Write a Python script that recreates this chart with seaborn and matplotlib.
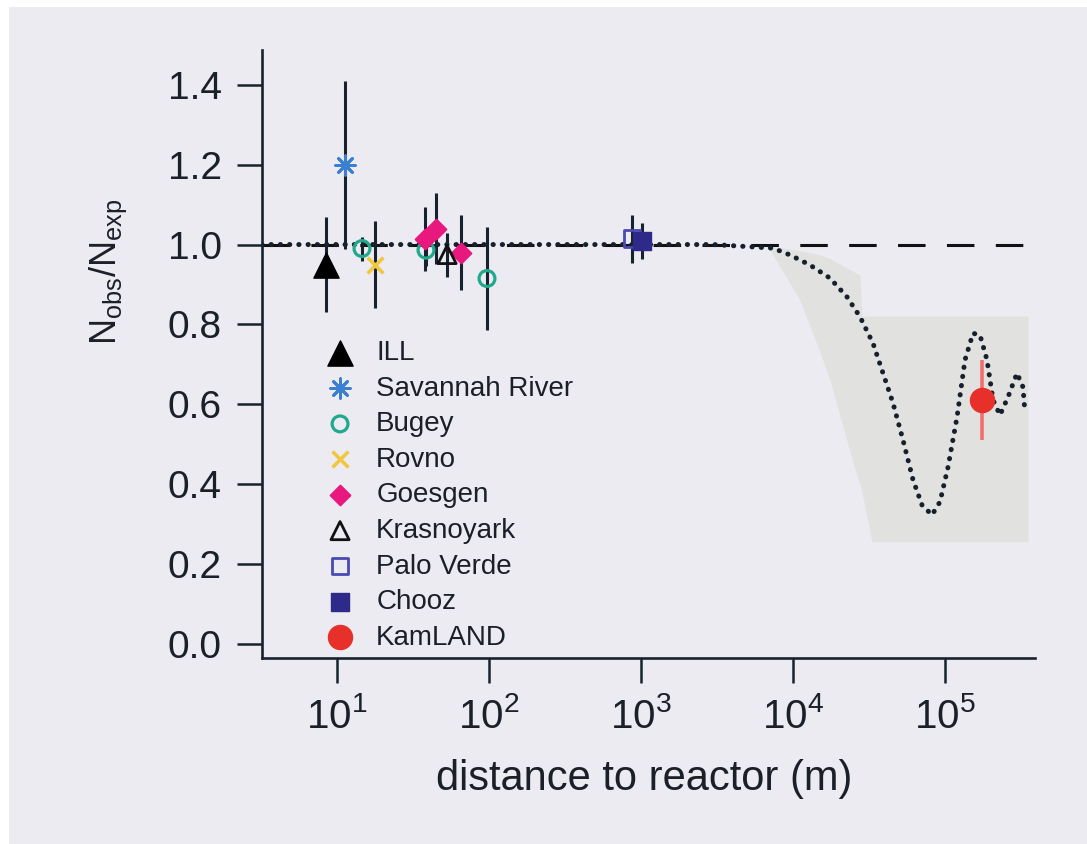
import numpy as np
import pandas as pd
import matplotlib
matplotlib.use("Agg")
import matplotlib.pyplot as plt
import seaborn as sns
from matplotlib.patches import Rectangle
from matplotlib.ticker import FixedLocator, FuncFormatter, NullLocator

# ---------------- data ----------------
experiments = ["ILL", "Savannah River", "Bugey", "Rovno", "Goesgen",
               "Krasnoyark", "Palo Verde", "Chooz", "KamLAND"]

ill_L, ill_R, ill_E = [8.5], [0.95], [0.12]
sav_L, sav_R, sav_E = [11.3], [1.20], [0.21]
bug_L, bug_R, bug_E = [14.6, 38.5, 97.0], [0.99, 0.986, 0.915], [0.03, 0.04, 0.13]
rov_L, rov_R, rov_E = [17.8], [0.95], [0.11]
goe_L, goe_R, goe_E = [38.0, 45.0, 65.0], [1.015, 1.04, 0.98], [0.08, 0.088, 0.095]
kra_L, kra_R, kra_E = [53.0], [0.975], [0.055]
pal_L, pal_R, pal_E = [870.0], [1.015], [0.06]
cho_L, cho_R, cho_E = [1020.0], [1.01], [0.045]
kam_L, kam_R, kam_E = [175000.0], [0.61], [0.10]

# oscillation prediction (dotted curve)
curve_L = [3.2, 1000, 3000, 4477, 7380, 9550, 12900, 17500, 22650, 27600,
           33600, 39100, 45500, 52900, 61600, 70600, 82100, 92700, 104700,
           120000, 135400, 152900, 170000, 189000, 207000, 230000, 259600,
           297700, 326000, 336000]
curve_R = [1.0, 1.0, 1.0, 0.996, 0.991, 0.974, 0.949, 0.916, 0.869, 0.819,
           0.753, 0.678, 0.603, 0.511, 0.411, 0.348, 0.323, 0.356, 0.443,
           0.568, 0.711, 0.778, 0.773, 0.711, 0.611, 0.573, 0.618,
           0.678, 0.643, 0.578]

# grey allowed band
band_L = [7060, 11100, 15060, 17500, 25600, 27600, 28400, 33100, 351500]
band_hi = [0.996, 0.985, 0.974, 0.965, 0.930, 0.924, 0.821, 0.821, 0.821]
band_lo = [0.986, 0.861, 0.730, 0.661, 0.436, 0.400, 0.380, 0.256, 0.256]

y_ticks = [0.0, 0.2, 0.4, 0.6, 0.8, 1.0, 1.2, 1.4]
x_ticks = [10, 100, 1000, 10000, 100000]

# ---------------- style ----------------
sns.set_theme(style="ticks")
plt.rcParams["font.family"] = ["Liberation Sans", "DejaVu Sans"]
INK = "#18222f"
BG = "#ECEBF1"

fig = plt.figure(figsize=(10.87, 8.44), dpi=100)
fig.patch.set_facecolor("white")
fig.patches.append(Rectangle((9 / 1087, 0), 1 - 9 / 1087, 1 - 7 / 844,
                             transform=fig.transFigure, facecolor=BG,
                             edgecolor="none", zorder=-10))

W, H = 1087, 844
ax = fig.add_axes([262 / W, 1 - 658 / H, (1035 - 262) / W, (658 - 50) / H])
ax.set_facecolor("none")
ax.set_xscale("log")
ax.set_xlim(3.21, 3.91e5)
ax.set_ylim(-0.035, 1.487)

# band
ax.fill_between(band_L, band_lo, band_hi, color="#E1E2E0", lw=0, zorder=0)

# reference line at 1
ax.axhline(1.0, color="#111111", lw=2.2, ls=(0, (9, 7)), zorder=1)

# prediction curve (round dots)
sns.lineplot(x=curve_L, y=curve_R, ax=ax, color="#15202c", lw=3.6,
             linestyle=(0, (0.05, 1.8)), dash_capstyle="round", zorder=2,
             sort=False, estimator=None)

# error bars
err_sets = [(ill_L, ill_R, ill_E), (sav_L, sav_R, sav_E), (bug_L, bug_R, bug_E),
            (rov_L, rov_R, rov_E), (goe_L, goe_R, goe_E), (kra_L, kra_R, kra_E),
            (pal_L, pal_R, pal_E), (cho_L, cho_R, cho_E)]
for L, R, E in err_sets:
    ax.errorbar(L, R, yerr=E, fmt="none", ecolor=INK, elinewidth=2.2,
                capsize=0, zorder=3)
ax.errorbar(kam_L, kam_R, yerr=kam_E, fmt="none", ecolor="#F07070",
            elinewidth=2.6, capsize=0, zorder=3)

# markers
def pts(L, R, label, marker, s, face, edge, lw=1.0):
    sns.scatterplot(x=L, y=R, ax=ax, marker=marker, s=s, color=edge,
                    facecolors=face, edgecolors=edge, linewidths=lw,
                    label=label, zorder=4)

pts(ill_L, ill_R, "ILL", "^", 330, "#000000", "#000000")
pts(sav_L, sav_R, "Savannah River", (8, 2, 0), 200, "#3a7fd0", "#3a7fd0", 2.0)
pts(bug_L, bug_R, "Bugey", "o", 130, "none", "#22a88c", 2.3)
pts(rov_L, rov_R, "Rovno", "x", 130, "#f0c840", "#f0c840", 2.6)
pts(goe_L, goe_R, "Goesgen", "D", 100, "#e8187e", "#e8187e", 1.5)
pts(kra_L, kra_R, "Krasnoyark", "^", 170, "none", "#111111", 2.0)
pts(pal_L, pal_R, "Palo Verde", "s", 140, "none", "#4a4ab4", 2.0)
pts(cho_L, cho_R, "Chooz", "s", 170, "#2e2a8a", "#2e2a8a", 1.0)
pts(kam_L, kam_R, "KamLAND", "o", 300, "#e8302a", "#e8302a", 1.0)

# axes styling
for side in ("top", "right"):
    ax.spines[side].set_visible(False)
for side in ("left", "bottom"):
    ax.spines[side].set_color(INK)
    ax.spines[side].set_linewidth(1.9)

ax.yaxis.set_major_locator(FixedLocator(y_ticks))
ax.yaxis.set_major_formatter(FuncFormatter(lambda v, p: f"{v:.1f}"))
ax.xaxis.set_major_locator(FixedLocator(x_ticks))
ax.xaxis.set_minor_locator(NullLocator())
ax.xaxis.set_major_formatter(FuncFormatter(
    lambda v, p: r"$\mathdefault{10^{%d}}$" % int(round(np.log10(v)))))
ax.tick_params(axis="both", which="major", direction="out", length=18,
               width=1.8, color=INK, labelcolor="#1b1f28")
ax.tick_params(axis="y", labelsize=28, pad=11)
ax.tick_params(axis="x", labelsize=29, pad=10)

ax.set_xlabel("distance to reactor (m)", fontsize=30, color="#1b1f28")
ax.xaxis.set_label_coords(0.494, -0.166)
ax.set_ylabel(r"N$_{\mathregular{obs}}$/N$_{\mathregular{exp}}$", fontsize=26,
              color="#1b1f28")
ax.yaxis.set_label_coords(-0.172, 0.635)

leg = ax.legend(loc="upper left", bbox_to_anchor=(0.083, 0.523), frameon=False,
                fontsize=20, handlelength=1.0, handletextpad=0.8,
                labelspacing=0.345, borderpad=0, borderaxespad=0,
                scatterpoints=1)
for txt in leg.get_texts():
    txt.set_color("#1b1f28")

fig.savefig("out.png", dpi=100, facecolor=fig.get_facecolor())
